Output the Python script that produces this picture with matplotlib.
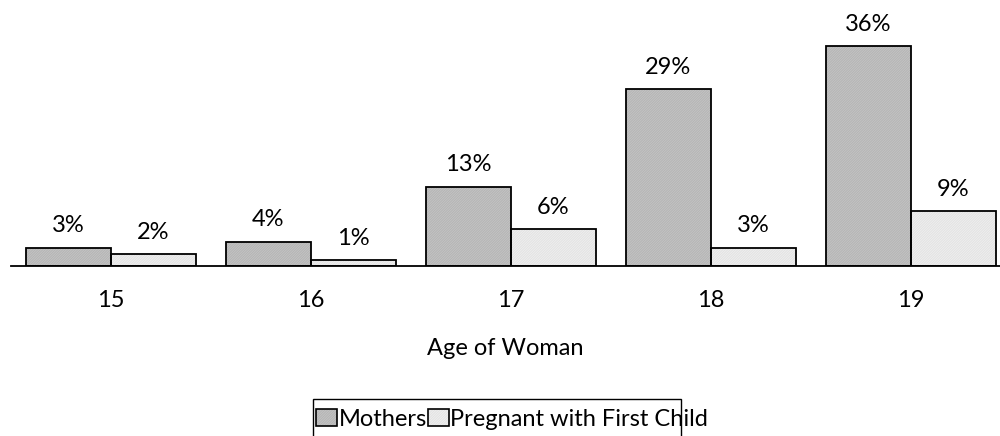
import matplotlib
matplotlib.use("Agg")
import matplotlib.pyplot as plt
import numpy as np
from matplotlib.patches import Patch, Rectangle
from matplotlib.legend_handler import HandlerTuple

categories = ["15", "16", "17", "18", "19"]
mothers = [3, 4, 13, 29, 36]
pregnant = [2, 1, 6, 3, 9]
series_names = ["Mothers", "Pregnant with First Child"]
xlabel = "Age of Woman"

plt.rcParams['font.family'] = ['Lato', 'DejaVu Sans']
plt.rcParams['hatch.linewidth'] = 0.4

W, H = 1000, 436
FS = 17
fig = plt.figure(figsize=(W/100, H/100), dpi=100)
ax = fig.add_axes([11/W, (H-266)/H, 1.0 - 11/W, 266/H])

x = np.arange(len(categories))
bw = 0.425
HATCH = "/" * 20
cols = [("#cdcdcd", "#a8a8a8"), ("#f7f7f7", "#d8d8d8")]
for i, (vals, (fc, hc)) in enumerate(zip([mothers, pregnant], cols)):
    pos = x - bw/2 + i*bw
    ax.bar(pos, vals, bw, color=fc, edgecolor=hc, hatch=HATCH, linewidth=0, zorder=2)
    ax.bar(pos, vals, bw, fill=False, edgecolor="black", linewidth=1.3, zorder=3)
    for p, v in zip(pos, vals):
        ax.annotate(f"{v}%", (p, v), xytext=(0, 11), textcoords="offset points",
                    ha="center", va="baseline", fontsize=FS)

ax.set_xlim(-0.5, 4.445)
ax.set_ylim(0, 266/6.1)
for s in ["top", "right", "left"]:
    ax.spines[s].set_visible(False)
ax.spines["bottom"].set_linewidth(1.3)
ax.set_yticks([])
ax.set_xticks(x)
ax.set_xticklabels(categories, fontsize=FS)
ax.tick_params(axis="x", length=0, pad=17)
ax.set_xlabel(xlabel, fontsize=FS, labelpad=20)

handles = [(Patch(facecolor=fc, edgecolor=hc, hatch=HATCH, linewidth=0),
            Patch(fill=False, edgecolor="black", linewidth=1.2)) for fc, hc in cols]
leg = fig.legend(handles, series_names, loc="center left",
                 bbox_to_anchor=(316/W, 1 - 419/H),
                 handler_map={tuple: HandlerTuple(ndivide=1, pad=0)},
                 ncol=2, fontsize=FS, frameon=False,
                 handlelength=0.9, handleheight=0.72, handletextpad=0.05,
                 columnspacing=0.05, borderpad=0, borderaxespad=0)
# legend frame (open at the bottom, as in the reference)
fig.add_artist(Rectangle((313/W, -0.05), (681-313)/W, (436-399)/H + 0.05,
                         transform=fig.transFigure, fill=False, edgecolor="black",
                         linewidth=1, zorder=1))

fig.savefig("out.png", dpi=100)
